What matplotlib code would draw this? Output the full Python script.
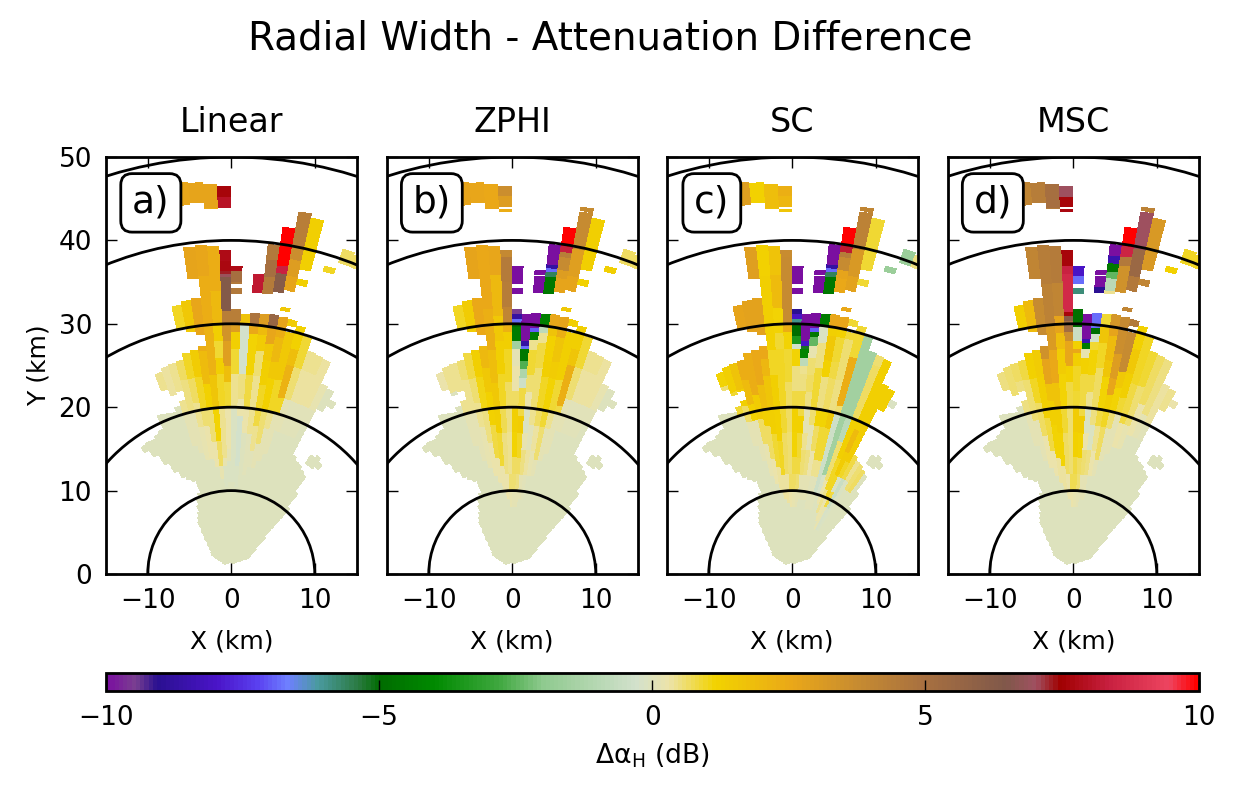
import numpy as np
import matplotlib
matplotlib.use('Agg')
import matplotlib.pyplot as plt
from matplotlib.colors import LinearSegmentedColormap, Normalize
from matplotlib.cm import ScalarMappable
from matplotlib.patches import Circle

plt.rcParams['font.family'] = 'DejaVu Sans'
plt.rcParams['mathtext.default'] = 'regular'

NO = np.nan      # gate without echo in this panel
LOW = -0.05      # value of the quiet part of the sector

titles = ['Linear', 'ZPHI', 'SC', 'MSC']
letters = ['a)', 'b)', 'c)', 'd)']
rings = [10, 20, 30, 40, 50]
beam_width = 2.1  # degrees

# colour bar, value -> colour
cmap_values = [-10, -9.5, -9.1, -8, -7.25, -6.7, -6.15, -5.4, -5, -4, -2.8, -2, -0.3, 0.3, 1.16, 2.55,
               3.74, 5, 6.5, 7.05, 7.5, 8.4, 9.5, 10]
cmap_colors = ['#7a0fa0', '#7a4090', '#2a1090', '#4a14c8', '#5a40f0', '#6e80ff', '#4a9aa0', '#2a7a40',
               '#006c00', '#008a00', '#40a840', '#8fca8f', '#d2e1cc', '#ece3aa', '#f2d300', '#eaa818',
               '#c88c30', '#a87040', '#80584a', '#a05060', '#a00000', '#c82040', '#ee4560', '#ff0000']

# range spans (km) with echo for each beam, beam k covers 2.1*k .. 2.1*(k+1) degrees from north
echo_spans = {
    -22: [(2.6, 3.3)], -21: [(2.2, 3.6)], -20: [(1.9, 4.0)], -19: [(1.6, 4.6)], -18: [(1.4, 5.4)],
    -17: [(1.3, 6.3), (17.9, 18.6)], -16: [(1.3, 7.4), (16.8, 18.7)], -15: [(1.3, 7.9), (15.3, 18.6)],
    -14: [(1.3, 8.4), (13.9, 18.9)], -13: [(1.3, 9.1), (12.9, 19.2)], -12: [(1.3, 9.8), (12.4, 20.9)],
    -11: [(1.3, 10.4), (12.0, 20.7)], -10: [(1.3, 20.5), (23.5, 25.6)], -9: [(1.3, 21.0), (22.5, 26.0)],
    -8: [(1.3, 21.6), (22.8, 26.2)], -7: [(1.3, 26.3)], -6: [(1.3, 27.0), (30.0, 32.8)],
    -5: [(1.3, 27.2), (29.5, 33.2)], -4: [(1.3, 27.5), (29.0, 33.3), (35.7, 39.5), (44.6, 47.3)],
    -3: [(1.3, 39.6), (44.7, 47.1)], -2: [(1.3, 39.4), (43.9, 46.8)], -1: [(1.2, 38.9), (43.4, 46.5)],
    0: [(1.2, 31.8), (33.6, 34.3), (34.8, 36.9)], 1: [(1.2, 31.2)], 2: [(1.2, 31.4), (33.9, 36.5)],
    3: [(1.2, 31.4), (33.9, 39.8)], 4: [(1.2, 31.5), (34.3, 42.1)],
    5: [(1.2, 31.4), (32.2, 32.6), (34.7, 44.8)], 6: [(1.2, 29.7), (30.6, 31.3), (35.6, 36.3), (37.5, 43.7)],
    7: [(1.3, 30.8)], 8: [(1.4, 29.8), (38.0, 38.6)], 9: [(1.4, 28.3), (39.5, 41.2)],
    10: [(1.5, 28.1), (39.5, 41.0)], 11: [(1.5, 28.0)], 12: [(1.6, 25.2)], 13: [(1.6, 16.0), (22.3, 25.0)],
    14: [(1.7, 15.6), (23.2, 24.0)], 15: [(1.7, 15.4)], 16: [(1.8, 15.0), (16.0, 17.2)],
    17: [(1.9, 14.7), (16.0, 17.5)], 18: [(2.0, 12.5), (16.3, 17.0)], 19: [(2.2, 10.5)], 20: [(2.3, 6.0)],
    21: [(2.5, 4.2)], 22: [(2.7, 3.2)],
}

# difference along each beam as (range where it starts, value), beams not listed stay at LOW
linear = {
    -10: [(0, LOW), (22, .4)],
    -9: [(0, LOW), (22, .35)],
    -8: [(0, LOW), (16, .1), (20, .45)],
    -7: [(0, LOW), (15, .15), (20, .5), (24, .7)],
    -6: [(0, LOW), (14, .2), (18, .45), (21, .7), (24, .95), (29, 1.0)],
    -5: [(0, LOW), (14, .25), (18, .55), (20, 1.0), (24, 1.4), (29, 1.5)],
    -4: [(0, LOW), (13, .25), (16, .6), (20, 1.2), (23, 1.9), (27, 2.4), (29, 2.6), (35, 2.7), (44, 2.6)],
    -3: [(0, LOW), (11.5, .2), (13, .7), (16, 1.1), (20, 1.6), (24, 2.2), (30, 2.4), (36, 2.6), (44, 2.7)],
    -2: [(0, LOW), (10.5, -.1), (13, .2), (14, .45), (20, 1.0), (24, 1.3), (26, .9), (28, 1.3), (30, 2.0), (34, 2.4),
         (44, 2.7)],
    -1: [(0, LOW), (11, -.15), (13.5, .1), (15, .3), (20, .9), (23, 1.8), (25, 2.9), (28, 3.4), (30, 4.3), (31.5, 6.4),
         (35.6, 6.9), (36, 7.3), (36.4, 7.7), (37.5, 7.8), (43.4, NO), (43.9, 8.0), (45.2, 7.6)],
    0: [(0, LOW), (11, -.15), (20, .4), (24, .9), (27, 1.3), (29, 3.0), (30, 4.3), (33, 4.6), (35, 5.0), (36.3, 7.8)],
    1: [(0, LOW), (10.5, -.15), (13, -.25), (19, .3), (21, .5), (24, -.25), (30, 1.7)],
    2: [(0, LOW), (12, -.05), (17, .3), (20, .8), (24, 1.1), (29, 2.5), (30, 4.8), (33, 8.2), (36.1, NO)],
    3: [(0, LOW), (12, .05), (17, .45), (20, .4), (24, .6), (27, 1.4), (29, 1.9), (30, 3.0), (33, 4.5), (36, 5.0),
        (38, 4.6)],
    4: [(0, LOW), (13, .05), (15, .4), (18, .85), (20, 1.0), (23, 1.3), (26, 1.5), (28, 2.6), (30, 5.6), (33, 6.2),
        (36.6, 8.4), (37.5, 10)],
    5: [(0, LOW), (13, .1), (16, .6), (20, 1.2), (24, 1.5), (26, 2.0), (29, 2.4), (30, 2.7), (32, 1.5), (34, 2.7),
        (36.5, 3.0), (38.5, 3.6), (40, 4.3), (44.2, NO)],
    6: [(0, LOW), (14, .1), (18, .45), (20, 1.0), (24, 1.5), (30, 1.4), (35, 1.3)],
    7: [(0, LOW), (15, .1), (20, 1.0), (22, 2.2), (26, 1.8), (28, 1.2)],
    8: [(0, LOW), (18, .1), (22, .6), (26, .9), (35, 1.0)],
    9: [(0, LOW), (18, .05), (22, .35), (26, .45), (35, .7)],
    10: [(0, LOW), (18, .05), (22, .35), (26, .45), (35, .7)],
    11: [(0, LOW), (18, .05), (22, .35)],
    12: [(0, LOW), (20, .05), (22, .2)],
}

zphi = {
    -10: [(0, LOW), (22, .3)],
    -9: [(0, LOW), (23, .4)],
    -8: [(0, LOW), (16, .1), (20, .4)],
    -7: [(0, LOW), (14, .15), (20, .45), (24, .6)],
    -6: [(0, LOW), (13, .2), (18, .45), (21, .6), (24, .8), (29, 1.0)],
    -5: [(0, LOW), (12, .25), (16, .5), (20, 1.05), (24, 1.3), (28, 1.4)],
    -4: [(0, LOW), (11, .3), (14, .8), (18, 1.2), (22, 1.5), (25, 2.0), (29, 2.5), (35, 2.7)],
    -3: [(0, LOW), (10, .3), (13, .9), (17, 1.25), (20, 1.5), (23, 1.8), (27, 2.3), (32, 2.5), (44, 2.6)],
    -2: [(0, LOW), (9, .25), (12, .5), (17, .75), (20, 1.0), (24, 1.25), (28, 1.5), (31, 2.0), (36, 2.6), (44, 2.5)],
    -1: [(0, LOW), (8, .2), (10, .6), (12, .45), (17, .5), (20, .7), (23, 1.0), (27, 1.3), (29, 2.2), (30, 4.0),
         (32, 4.4), (35, 4.5), (38, 3.9), (43.4, 2.4), (43.8, NO), (44, 3.0), (45.4, 3.6)],
    0: [(0, LOW), (8, .15), (10, .6), (12, .7), (14, 1.1), (17, 1.3), (20, .7), (22, .25), (25, .1), (27, -1.5),
        (28, -4.5), (29.6, -5.0), (30, -6.8), (30.6, -8.7), (31.2, -9.5), (33, -10)],
    1: [(0, LOW), (8, .1), (10, .5), (12, .7), (14, 1.0), (17, 1.35), (19, .8), (22.4, -.4), (23.6, -1.2),
        (24.6, -2.6), (25.6, -4.6), (27, -6.8), (27.4, -8.7), (28, -10)],
    2: [(0, LOW), (9, .1), (12, .5), (15, .2), (17, -.1), (20, .3), (22, .6), (24, .9), (27, .4), (28.2, -4.5),
        (29.2, -7), (29.7, -10), (33, -10), (35.8, NO), (36.1, -10)],
    3: [(0, LOW), (9, .05), (12, .35), (15, .05), (18, .4), (20, .6), (25, .8), (28, .4), (29.2, -.8), (30.2, -4.3),
        (33, -4.6), (36, -5.6), (36.6, -6.8), (37, -8.7), (37.4, -10)],
    4: [(0, LOW), (12, .2), (15, .35), (18, .7), (20, 1.0), (24, 1.3), (26, 1.2), (29, 1.7), (30, 2.6), (33, 2.7),
        (36, 3.0), (37, 3.8), (38.5, 4.3), (39.2, 8.3), (39.9, 10)],
    5: [(0, LOW), (12, .15), (14, .55), (18, .9), (20, 1.1), (24, 1.4), (26, 1.6), (29, 2.3), (30, 2.7), (32, 1.5),
        (34, 2.7), (36.5, 2.9), (39.8, 3.8), (44.2, NO), (44.4, 3.8)],
    6: [(0, LOW), (14, .1), (18, .45), (20, .9), (24, 1.3), (29, 1.3), (35, 1.2), (37, 1.25)],
    7: [(0, LOW), (15, .1), (20, .8), (21, 2.3), (26, 1.6), (28, 1.3)],
    8: [(0, LOW), (18, .1), (22, .6), (26, .9), (35, 1.3)],
    9: [(0, LOW), (18, .05), (22, .35), (26, .45), (35, .7)],
    10: [(0, LOW), (18, .05), (22, .35), (26, .45), (35, .7)],
    11: [(0, LOW), (18, .05), (22, .35)],
    12: [(0, LOW), (20, .05), (22, .2)],
}

sc = {
    -10: [(0, LOW), (22, .6), (24, 1.1)],
    -9: [(0, LOW), (20, .9), (23, 1.3)],
    -8: [(0, LOW), (16, .1), (19, .7), (21, 1.3), (23, 1.7)],
    -7: [(0, LOW), (14, .15), (19, 1.2), (21, 1.9), (24, 2.4)],
    -6: [(0, LOW), (12, .2), (16, .7), (19, 1.4), (22, 2.4), (29, 2.7)],
    -5: [(0, LOW), (11, .25), (14, .7), (18, 1.3), (20, 1.8), (23, 2.5), (29, 2.8)],
    -4: [(0, LOW), (10, .35), (13, .9), (17, 1.3), (20, 1.6), (24, 2.1), (26, 2.5), (29, 2.8), (35, 2.9), (44, 2.9)],
    -3: [(0, LOW), (9, .35), (12, 1.0), (16, 1.2), (20, 1.3), (24, 1.0), (27, 1.2), (30, 1.3), (36, 1.2)],
    -2: [(0, LOW), (8.5, .35), (12, .7), (17, .9), (20, 1.0), (24, 1.0), (27, .9), (29, 1.1), (32, 1.9), (36, 1.7),
         (44, 1.8)],
    -1: [(0, LOW), (8, .25), (10, .7), (12, .6), (17, .7), (20, .7), (23, .9), (27, 1.1), (29, 2.4), (30, 3.8),
         (38, 3.7), (43.4, 1.6), (43.8, NO), (44, 2.1), (45.4, 2.3)],
    0: [(0, LOW), (8, .2), (10, .7), (12, .8), (14, 1.1), (17, 1.2), (20, .8), (22, .5), (25, 1.1), (27, -.3),
        (27.6, -3.5), (28.5, -5.0), (30, -6.0), (30.6, -8.0), (31.2, -9.0), (33, -10)],
    1: [(0, LOW), (8, .15), (10, .6), (12, .8), (14, .9), (17, 1.2), (19, .8), (22, .5), (24, .4), (25, -.8),
        (26, -4.2), (27, -5.2), (27.4, -8), (28, -10)],
    2: [(0, LOW), (9, .15), (12, .6), (15, .4), (17, .1), (20, .5), (22, .7), (24, .6), (26, .2), (27.5, -2.5),
        (28.6, -4.6), (29.2, -7), (29.7, -10), (33, -10), (35.8, NO), (36.1, -10)],
    3: [(0, LOW), (9, .15), (12, .5), (15, .1), (18, .6), (20, .9), (25, .5), (28, -.1), (30, -4.5), (33, -4.6),
        (36, -5.6), (36.6, -6.8), (37, -8.7), (37.4, -10)],
    4: [(0, LOW), (9, .1), (12, .3), (15, .7), (18, 1.1), (20, .5), (24, 1.2), (26, 1.5), (29, 1.3), (30, 2.6),
        (33, 2.5), (36, 2.7), (37, 3.8), (38.5, 4.4), (39.2, 8.2), (39.9, 10)],
    5: [(0, LOW), (8, .05), (12, .4), (14, .9), (18, 1.1), (20, .7), (24, .8), (26, .9), (29, 1.2), (30, 2.6),
        (32, 2.5), (34, 2.8), (36.5, 3.2), (39.8, 4.2), (44.2, NO), (44.4, 4.0)],
    6: [(0, LOW), (8, .05), (12, .4), (14, .9), (18, 1.5), (20, .5), (24, .6), (29, .9), (35, .9), (37, .9)],
    7: [(0, LOW), (8, .05), (10, -.4), (20, .6), (21, 2.4), (27, .9)],
    8: [(0, LOW), (10, -.2), (12.5, -1.5), (30, -1.6), (38, -1.7)],
    9: [(0, LOW), (9, .3), (12, .6), (17, -.9), (20, -1.5), (39, -1.7)],
    10: [(0, LOW), (8, .4), (11, 1.0), (15, 1.3), (20, .7), (27, .6), (39, .5)],
    11: [(0, LOW), (7, .3), (10, 1.0), (13, 1.4), (16, 1.9), (19, 1.3), (22, 1.3)],
    12: [(0, LOW), (6, .2), (9, .8), (11, -.1), (13, 1.0), (15, 1.4), (20, 1.3)],
    13: [(0, LOW), (6, -.2), (9, -.5), (13, .8), (22, 1.3)],
    14: [(0, LOW), (6, -.1), (13, .4), (22, -.1)],
    15: [(0, LOW), (12, .6)],
    16: [(0, LOW), (12, .7), (16, LOW)],
}

msc = {
    -10: [(0, LOW), (22, .5)],
    -9: [(0, LOW), (22, .6)],
    -8: [(0, LOW), (16, .1), (20, .5), (24, .7)],
    -7: [(0, LOW), (14, .15), (19, .55), (24, .85)],
    -6: [(0, LOW), (13, .25), (17, .7), (21, .95), (24, 1.2), (29, 1.3)],
    -5: [(0, LOW), (12, .3), (15, .8), (19, 1.3), (24, 1.35), (28, 1.9)],
    -4: [(0, LOW), (11, .35), (14, 1.1), (18, 1.25), (21, 1.7), (23, 2.7), (26, 3.5), (29, 3.8), (35, 4.0)],
    -3: [(0, LOW), (10, .35), (13, 1.1), (17, 1.3), (20, 1.7), (23, 2.5), (27, 3.1), (30, 4.2), (35, 4.4)],
    -2: [(0, LOW), (9, .3), (12, .7), (17, .9), (20, 1.1), (24, 1.4), (27, 1.8), (29, 2.7), (31, 4.0), (35, 4.5),
         (44, 5.0)],
    -1: [(0, LOW), (8, .25), (10, .75), (12, .6), (17, .6), (20, .8), (23, 1.2), (25, 2.6), (28, 3.6), (29, 5.2),
         (30.3, 6.2), (31, 7.6), (31.4, 8.6), (36, 8.4), (37, 7.6), (43.4, 7.7), (43.8, NO), (44, 7.6), (45.2, 7.0)],
    0: [(0, LOW), (8, .2), (10, .75), (12, .8), (14, 1.2), (17, 1.4), (20, .9), (22, 1.0), (25, 1.3), (26.5, 2.5),
        (27, 1.2), (28, -.5), (29.6, -4.8), (33, -5.8), (34.8, -6.8), (35.8, -8)],
    1: [(0, LOW), (8, .15), (10, .6), (12, .7), (14, 1.1), (17, 1.4), (19, .8), (22, .8), (24, 1.2), (26, .2), (27, -4.5),
        (27.8, -8.5), (28.2, -10)],
    2: [(0, LOW), (9, .15), (12, .6), (15, .3), (17, -.1), (20, .4), (22, .8), (24, 1.1), (27, .9), (28, -.3),
        (29, -5.0), (29.7, -6.8), (33, -9.0), (34.6, -10), (35.8, NO), (36.1, -10)],
    3: [(0, LOW), (9, .1), (12, .5), (15, -.1), (18, .5), (20, .7), (25, 1.0), (28, 1.6), (30, .9), (33, .4), (34.3, -.9),
        (35.8, -2.5), (36.6, -4.6), (37.6, -8.5), (38.5, -10)],
    4: [(0, LOW), (12, .25), (15, .45), (18, .8), (20, 1.1), (24, 1.6), (26, 1.9), (29, 2.7), (30, 3.3), (33, 3.5),
        (37.5, 4.6), (38.6, 8.5), (39.9, 10)],
    5: [(0, LOW), (12, .15), (14, .65), (18, 1.0), (20, 1.3), (22, 2.6), (24, 3.0), (27, 3.6), (30, 3.9), (32, 4.0),
        (34, 4.6), (36.5, 5.5), (39.8, 7.0), (44.2, NO), (44.4, 4.2)],
    6: [(0, LOW), (14, .15), (18, .55), (20, 1.1), (23, 1.5), (25, 3.8), (30, 4.6), (35, 4.0), (37, 3.2)],
    7: [(0, LOW), (15, .15), (20, .9), (22, 1.3), (25, 1.5), (28, 1.2)],
    8: [(0, LOW), (16, .25), (19, .8), (24, 1.0), (35, 1.2)],
    9: [(0, LOW), (16, .2), (19, .6), (24, .9), (35, 1.0)],
    10: [(0, LOW), (18, .25), (22, .7), (35, 1.0)],
    11: [(0, LOW), (18, .15), (21, .5)],
    12: [(0, LOW), (18, .05), (20, .35)],
    13: [(0, LOW), (22, .4)],
    14: [(0, LOW), (22, .3)],
}

panels = [linear, zphi, sc, msc]


def panel_grid(table, r):
    # fills range gates of every beam from the table above
    beams = sorted(echo_spans)
    z = np.full((len(beams), len(r)), np.nan)
    for i, k in enumerate(beams):
        steps = table.get(k, [(0, LOW)])
        starts = [s[0] for s in steps]
        vals = np.array([s[1] for s in steps])
        gate = vals[np.searchsorted(starts, r, side='right') - 1]
        for r0, r1 in echo_spans[k]:
            inside = (r >= r0) & (r < r1)
            z[i, inside] = gate[inside]
    return z


cmap = LinearSegmentedColormap.from_list(
    'dalpha', [((v + 10) / 20, c) for v, c in zip(cmap_values, cmap_colors)], N=256)
norm = Normalize(-10, 10)

beams = sorted(echo_spans)
az_edges = np.radians(beam_width * np.arange(beams[0], beams[-1] + 2))
r_edges = np.arange(0, 50.05, 0.1)
r_mid = 0.5 * (r_edges[:-1] + r_edges[1:])
az2d, r2d = np.meshgrid(az_edges, r_edges, indexing='ij')
x = r2d * np.sin(az2d)
y = r2d * np.cos(az2d)

W, H = 1233.0, 796.0
fig = plt.figure(figsize=(W / 200, H / 200), dpi=200)
lefts = [106, 387, 667, 948]

for i in range(4):
    ax = fig.add_axes([lefts[i] / W, 1 - 574 / H, 250.5 / W, 417 / H])
    ax.pcolormesh(x, y, np.ma.masked_invalid(panel_grid(panels[i], r_mid)), cmap=cmap, norm=norm,
                  shading='flat', antialiased=False, zorder=1)
    for rr in rings:
        ax.add_patch(Circle((0, 0), rr, fill=False, ec='k', lw=1.0, zorder=3))
    ax.set_xlim(-15, 15)
    ax.set_ylim(0, 50)
    ax.set_xticks([-10, 0, 10])
    ax.set_yticks([0, 10, 20, 30, 40, 50])
    ax.tick_params(direction='in', top=True, right=True, length=4, width=0.5, labelsize=9.5, pad=5,
                   labelleft=(i == 0))
    for sp in ax.spines.values():
        sp.set_linewidth(1.0)
        sp.set_zorder(5)
    ax.set_xlabel('X (km)', fontsize=9, labelpad=5.5)
    if i == 0:
        ax.set_ylabel('Y (km)', fontsize=9, labelpad=3)
    ax.set_title(titles[i], fontsize=12, pad=9)
    ax.text(0.179, 0.89, letters[i], transform=ax.transAxes, fontsize=13.5, ha='center', va='center', zorder=6,
            bbox=dict(boxstyle='round,pad=0.3', fc='white', ec='k', lw=1.0))

cax = fig.add_axes([106 / W, 1 - 691 / H, 1092.5 / W, 18 / H])
cb = fig.colorbar(ScalarMappable(norm=norm, cmap=cmap), cax=cax, orientation='horizontal', ticks=[-10, -5, 0, 5, 10])
cb.ax.tick_params(direction='in', length=4, width=0.5, labelsize=9.5, pad=5)
cb.outline.set_linewidth(1.0)
cb.set_label(r'$\Delta\alpha_H$ (dB)', fontsize=9.6, labelpad=4)

fig.suptitle('Radial Width - Attenuation Difference', fontsize=14, x=0.495, y=0.975)

fig.savefig('out.png', dpi=200)
